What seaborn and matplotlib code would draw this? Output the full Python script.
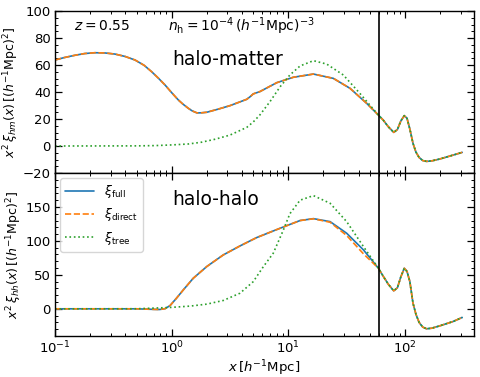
import matplotlib
matplotlib.use("Agg")
import matplotlib.pyplot as plt
import numpy as np
import pandas as pd
import seaborn as sns
from matplotlib.ticker import AutoMinorLocator

# halo-matter, x < 60 (full and direct overlap)
x_hm = [0.1, 0.12, 0.148, 0.18, 0.22, 0.27, 0.327, 0.4, 0.485, 0.58, 0.674, 0.77,
        0.877, 1.0, 1.14, 1.25, 1.39, 1.5, 1.65, 1.8, 2.0, 2.5, 3.16, 4.4, 4.7,
        5.0, 5.7, 7.95, 11.0, 16.4, 24.3, 33.8, 46.9]
hm_full = [63.7, 65.5, 67.2, 68.5, 69.1, 68.9, 68.1, 66.3, 63.7, 59.8, 55.0, 50.2,
           45.2, 39.5, 34.1, 31.0, 27.9, 26.0, 24.5, 24.6, 25.0, 27.3, 29.9, 34.6, 36.5,
           38.6, 40.3, 46.9, 50.9, 53.3, 50.1, 42.7, 31.6]
hm_direct = list(hm_full)

x_hm_tree = [0.1, 0.5, 0.72, 1.0, 1.39, 1.8, 2.35, 3.16, 4.4, 5.0, 5.7, 6.96,
             8.5, 10.3, 12.6, 16.4, 21.3, 29.6, 41.0]
hm_tree = [0.0, 0.1, 0.3, 0.8, 1.5, 2.8, 5.0, 8.1, 13.8, 17.8, 23.0, 32.9,
           43.9, 52.6, 59.3, 63.2, 60.7, 52.6, 39.0]

# halo-halo, x < 60
x_hh = [0.1, 0.5, 0.7, 0.79, 0.88, 0.97, 1.1, 1.26, 1.53, 2.0, 2.77, 3.85, 5.35,
        7.43, 9.7, 12.6, 16.4, 22.8, 31.6, 44.0]
hh_full = [0.0, 0.0, -0.8, -1.0, 0.3, 4.9, 15.7, 28.0, 45.0, 62.3, 79.4, 92.6, 104.9,
           114.7, 122.5, 130.0, 132.8, 128.4, 111.3, 86.8]
hh_direct = [0.0, 0.0, -0.8, -1.0, 0.3, 4.9, 15.7, 28.0, 45.0, 62.3, 79.4, 92.6, 104.9,
             114.7, 122.5, 130.0, 132.6, 127.5, 108.0, 81.0]

x_hh_tree = [0.1, 0.5, 0.97, 1.44, 2.0, 2.77, 3.85, 5.0, 6.1, 7.43, 9.06, 10.3,
             12.6, 16.4, 22.8, 31.6, 44.0]
hh_tree = [0.0, 0.1, 2.0, 4.0, 6.9, 12.3, 23.0, 40.0, 62.0, 82.0, 116.0, 140.0,
           160.0, 166.7, 155.4, 128.4, 91.7]

# x > 60: all three coincide
x_tail = [59, 65, 72, 80, 86, 92, 98.5, 104, 110, 117, 124, 132, 142, 153, 170, 199, 259, 309]
hm_tail = [23.0, 19.2, 14.2, 10.1, 12.2, 18.5, 22.5, 20.5, 12.5, 2.0, -4.5, -8.5,
           -10.8, -11.4, -11.0, -9.6, -6.7, -4.7]
hh_tail = [60.0, 48.0, 36.0, 26.5, 31.0, 47.0, 59.8, 55.0, 40.0, 8.3, -8.0, -20.0,
           -27.0, -29.4, -28.5, -25.0, -18.6, -12.7]

x_cut = 60

sns.set_style("ticks", rc={
    "axes.edgecolor": "black",
    "xtick.color": "black",
    "ytick.color": "black",
    "text.color": "black",
    "axes.labelcolor": "black",
})
plt.rcParams["font.family"] = ["DejaVu Sans"]
plt.rcParams["mathtext.fontset"] = "dejavusans"

fig = plt.figure(figsize=(4.8, 3.77), dpi=100)
ax1 = fig.add_axes([0.1146, 0.5411, 0.8729, 0.4297])
ax2 = fig.add_axes([0.1146, 0.1088, 0.8729, 0.4323])

styles = [
    ("full", "#1f77b4", "-"),
    ("direct", "#ff7f0e", "--"),
    ("tree", "#2ca02c", ":"),
]

panels = [
    (ax1, {"full": (x_hm, hm_full), "direct": (x_hm, hm_direct),
           "tree": (x_hm_tree, hm_tree)}, hm_tail),
    (ax2, {"full": (x_hh, hh_full), "direct": (x_hh, hh_direct),
           "tree": (x_hh_tree, hh_tree)}, hh_tail),
]

for ax, series, tail in panels:
    for name, color, ls in styles:
        xs, ys = series[name]
        df = pd.DataFrame({"x": list(xs) + x_tail, "y": list(ys) + tail})
        sns.lineplot(data=df, x="x", y="y", ax=ax, color=color, linestyle=ls,
                     linewidth=1.2, label=r"$\xi_{\rm %s}$" % name, sort=False)
    ax.axvline(x_cut, color="black", linewidth=1.2)
    ax.set_xscale("log")
    ax.set_xlim(0.1, 390)
    ax.tick_params(which="both", direction="in", top=True, right=True,
                   labelsize=9.5, pad=3)
    ax.tick_params(which="major", length=5, width=0.9)
    ax.tick_params(which="minor", length=2.5, width=0.7)
    ax.yaxis.set_minor_locator(AutoMinorLocator())
    for s in ax.spines.values():
        s.set_linewidth(1.0)

ax1.get_legend().remove()
ax1.set_ylim(-20, 100)
ax1.set_yticks([-20, 0, 20, 40, 60, 80, 100])
ax1.tick_params(labelbottom=False)
ax1.set_xlabel("")
ax1.set_ylabel(r"$x^2\,\xi_{hm}(x)\,[(h^{-1}{\rm Mpc})^2]$", fontsize=9, labelpad=1)
ax1.text(0.045, 0.905, r"$z = 0.55$", transform=ax1.transAxes, fontsize=10, va="center")
ax1.text(0.27, 0.905, r"$n_{\rm h} = 10^{-4}\,(h^{-1}{\rm Mpc})^{-3}$",
         transform=ax1.transAxes, fontsize=10, va="center")
ax1.text(0.28, 0.70, "halo-matter", transform=ax1.transAxes, fontsize=13.5, va="center")

ax2.set_ylim(-40, 200)
ax2.set_yticks([0, 50, 100, 150])
ax2.set_xlabel(r"$x\,[h^{-1}{\rm Mpc}]$", fontsize=9.5, labelpad=1)
ax2.set_ylabel(r"$x^2\,\xi_{hh}(x)\,[(h^{-1}{\rm Mpc})^2]$", fontsize=9, labelpad=1)
ax2.text(0.28, 0.835, "halo-halo", transform=ax2.transAxes, fontsize=13.5, va="center")
ax2.legend(loc="upper left", fontsize=9, handlelength=2.3, borderaxespad=0.4)

fig.savefig("out.png", dpi=100)
